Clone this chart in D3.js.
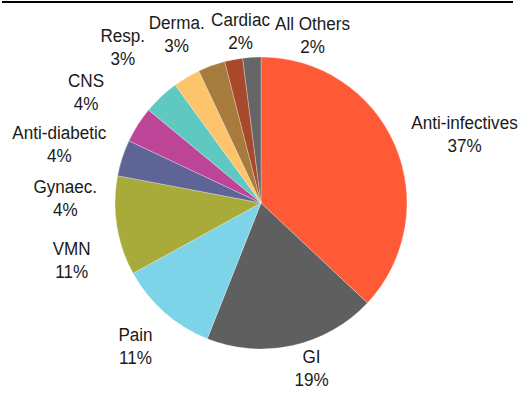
<!DOCTYPE html>
<html>
<head>
<meta charset="utf-8">
<script src="https://cdn.jsdelivr.net/npm/d3@7/dist/d3.min.js"></script>
<style>
  html, body { margin: 0; padding: 0; background: #fff; }
  svg { display: block; }
  .lbl { font-family: "Liberation Sans", Arial, sans-serif; font-size: 19px; fill: #1a1a1a; }
</style>
</head>
<body>
<svg id="chart" width="522" height="394"></svg>
<script>
// Therapy-area share of sales (%)
const categories = ["Anti-infectives", "GI", "Pain", "VMN", "Gynaec.", "Anti-diabetic", "CNS", "Resp.", "Derma.", "Cardiac", "All Others"];
const shares = [37, 19, 11, 11, 4, 4, 4, 3, 3, 2, 2];
const sliceColors = ["#FF5A36", "#5F5F5F", "#7DD3E7", "#A8AA3A", "#5E6496", "#BC4598", "#5EC8C1", "#FDC46B", "#A77B3D", "#A8492B", "#656565"];

// Label block anchors relative to pie centre: [dx of text centre, dy of first baseline]
const labelOffsets = [
  [203.5, -74], [50.5, 160], [-125.5, 138], [-189.3, 52], [-195.7, -10],
  [-201.7, -64], [-175, -116], [-138.2, -161], [-84.3, -174], [-20.5, -177], [51.5, -173]
];

const W = 522, H = 394;
const cx = 261, cy = 203, R = 146;
const lineGap = 23.5;

const svg = d3.select("#chart");

// rule across the top
svg.append("line")
  .attr("x1", 2).attr("x2", 513)
  .attr("y1", 2).attr("y2", 2)
  .attr("stroke", "#000").attr("stroke-width", 2);

const rows = categories.map((c, i) => ({ name: c, value: shares[i], color: sliceColors[i], off: labelOffsets[i] }));

const pie = d3.pie().value(d => d.value).sort(null);
const arc = d3.arc().innerRadius(0).outerRadius(R);

const g = svg.append("g").attr("transform", `translate(${cx},${cy})`);

g.selectAll("path.slice")
  .data(pie(rows))
  .join("path")
  .attr("class", "slice")
  .attr("d", arc)
  .attr("fill", d => d.data.color)
  .attr("stroke", "#ffffff")
  .attr("stroke-opacity", 0.7)
  .attr("stroke-width", 0.4);

const labels = g.selectAll("g.lbl-g")
  .data(rows)
  .join("g")
  .attr("class", "lbl-g")
  .attr("transform", d => `translate(${d.off[0]},${d.off[1]}) scale(0.9,1)`);

const txt = labels.append("text")
  .attr("class", "lbl")
  .attr("text-anchor", "middle");

txt.append("tspan").attr("x", 0).attr("y", 0).text(d => d.name);
txt.append("tspan").attr("x", 0).attr("y", lineGap).text(d => d.value + "%");
</script>
</body>
</html>
